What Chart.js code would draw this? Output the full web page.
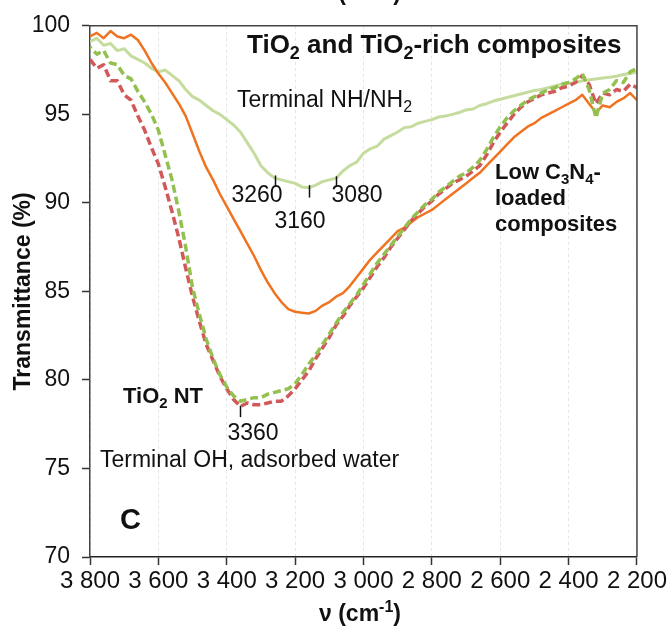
<!DOCTYPE html>
<html>
<head>
<meta charset="utf-8">
<script src="https://cdn.jsdelivr.net/npm/chart.js@4.4.1/dist/chart.umd.min.js"></script>
<style>
  html, body { margin: 0; padding: 0; background: #fff; }
  #wrap { width: 669px; height: 631px; }
</style>
</head>
<body>
<div id="wrap"><canvas id="irChart" width="669" height="631"></canvas></div>
<script>
// wavenumber (cm-1), read every 20 cm-1 off the picture
const wavenumbers = [3800, 3780, 3760, 3740, 3720, 3700, 3680, 3660, 3640, 3620,
  3600, 3580, 3560, 3540, 3520, 3500, 3480, 3460, 3440, 3420,
  3400, 3380, 3360, 3340, 3320, 3300, 3280, 3260, 3240, 3220,
  3200, 3180, 3160, 3140, 3120, 3100, 3080, 3060, 3040, 3020,
  3000, 2980, 2960, 2940, 2920, 2900, 2880, 2860, 2840, 2820,
  2800, 2780, 2760, 2740, 2720, 2700, 2680, 2660, 2640, 2620,
  2600, 2580, 2560, 2540, 2520, 2500, 2480, 2460, 2440, 2420,
  2400, 2380, 2360, 2340, 2320, 2300, 2280, 2260, 2240, 2220, 2200];

// light green solid (terminal NH/NH2 band)
const nhComposite = [99.1, 99.3, 98.9, 99.0, 98.6, 98.7, 98.3, 98.1, 97.9, 97.6,
  97.4, 97.5, 97.2, 96.9, 96.4, 96.0, 95.8, 95.5, 95.2, 95.0,
  94.7, 94.4, 94.0, 93.4, 92.8, 92.1, 91.7, 91.4, 91.3, 91.2,
  91.1, 90.9, 90.85, 91.0, 91.2, 91.3, 91.4, 91.8, 92.1, 92.3,
  92.8, 93.05, 93.2, 93.6, 93.8, 94.0, 94.25, 94.3, 94.5, 94.6,
  94.7, 94.85, 94.9, 95.0, 95.1, 95.25, 95.3, 95.5, 95.6, 95.75,
  95.85, 95.95, 96.05, 96.15, 96.25, 96.35, 96.4, 96.5, 96.6, 96.7,
  96.75, 96.8, 96.9, 96.95, 97.0, 97.05, 97.1, 97.15, 97.25, 97.3, 97.4];

// orange solid (low C3N4-loaded composites)
const lowC3N4 = [99.4, 99.6, 99.3, 99.7, 99.4, 99.3, 99.5, 99.2, 98.6, 97.9,
  97.3, 96.8, 96.2, 95.6, 94.9, 93.9, 92.9, 92.0, 91.3, 90.5,
  89.8, 89.1, 88.4, 87.7, 87.0, 86.2, 85.5, 84.9, 84.4, 84.0,
  83.85, 83.8, 83.75, 83.9, 84.2, 84.4, 84.7, 84.9, 85.3, 85.8,
  86.3, 86.8, 87.2, 87.6, 88.0, 88.4, 88.6, 88.9, 89.2, 89.4,
  89.6, 89.9, 90.2, 90.5, 90.8, 91.1, 91.4, 91.7, 92.1, 92.5,
  92.9, 93.3, 93.7, 94.0, 94.3, 94.5, 94.8, 95.0, 95.2, 95.4,
  95.6, 95.8, 96.1, 95.6, 95.1, 95.5, 95.4, 95.7, 95.9, 96.2, 95.8];

// red dashed (TiO2 NT)
const tio2NT = [98.1, 97.6, 97.8, 96.9, 96.9, 96.1, 95.8, 94.9, 94.1, 93.1,
  92.2, 90.9, 89.5, 88.0, 86.3, 84.7, 83.3, 82.0, 81.1, 80.2,
  79.5, 78.9, 78.5, 78.7, 78.6, 78.6, 78.7, 78.8, 78.8, 79.1,
  79.5, 80.0, 80.5, 81.2, 81.8, 82.4, 83.1, 83.6, 84.2, 84.7,
  85.2, 85.8, 86.4, 86.9, 87.5, 88.0, 88.5, 89.0, 89.4, 89.8,
  90.1, 90.5, 90.8, 91.1, 91.3, 91.5, 91.8, 92.1, 92.7, 93.4,
  94.0, 94.5, 95.0, 95.4, 95.7, 95.9, 96.1, 96.2, 96.3, 96.5,
  96.6, 96.8, 97.2, 96.7, 95.6, 96.2, 96.1, 96.4, 96.3, 96.7, 96.5];

// green dashed (TiO2-rich composite)
const tio2Rich = [98.8, 98.4, 98.6, 97.9, 97.8, 97.2, 97.0, 96.3, 95.7, 95.0,
  94.1, 92.7, 91.3, 89.5, 87.5, 85.2, 83.7, 82.3, 81.2, 80.3,
  79.6, 79.1, 78.8, 78.9, 79.0, 79.0, 79.2, 79.3, 79.4, 79.5,
  79.8, 80.3, 80.9, 81.4, 82.0, 82.6, 83.2, 83.8, 84.3, 84.8,
  85.4, 86.0, 86.6, 87.1, 87.6, 88.1, 88.6, 89.1, 89.5, 89.9,
  90.2, 90.6, 90.9, 91.2, 91.5, 91.7, 92.0, 92.4, 93.0, 93.7,
  94.3, 94.8, 95.2, 95.5, 95.8, 96.0, 96.2, 96.4, 96.5, 96.7,
  96.8, 97.0, 97.3, 96.4, 94.8, 96.2, 96.4, 96.9, 96.8, 97.4, 97.6];

const xTicks = [3800, 3600, 3400, 3200, 3000, 2800, 2600, 2400, 2200];
const yTicks = [70, 75, 80, 85, 90, 95, 100];
const peakLabels = [3260, 3160, 3080, 3360];

const FONT = '"Liberation Sans", Arial, sans-serif';

function pts(arr) {
  return wavenumbers.map((w, i) => ({ x: w, y: arr[i] }));
}

function fmtThousands(v) {
  return String(v).replace(/\B(?=(\d{3})+(?!\d))/g, ' ');
}

// text with sub/superscripts: parts = [[text, ''|'sub'|'sup'], ...]
function richText(ctx, parts, x, y, size, weight, align) {
  const small = Math.round(size * 0.68);
  const fontFor = m => `${weight} ${m ? small : size}px ${FONT}`;
  let w = 0;
  parts.forEach(([t, m]) => { ctx.font = fontFor(m); w += ctx.measureText(t).width; });
  let cx = align === 'center' ? x - w / 2 : align === 'right' ? x - w : x;
  ctx.textAlign = 'left';
  ctx.textBaseline = 'alphabetic';
  parts.forEach(([t, m]) => {
    ctx.font = fontFor(m);
    const dy = m === 'sub' ? size * 0.22 : m === 'sup' ? -size * 0.38 : 0;
    ctx.fillText(t, cx, y + dy);
    cx += ctx.measureText(t).width;
  });
}

const annotate = {
  id: 'annotate',
  afterDraw(chart) {
    const { ctx, chartArea: a, scales: { x, y } } = chart;
    ctx.save();
    ctx.fillStyle = '#111';

    // top and right frame
    ctx.strokeStyle = '#444';
    ctx.lineWidth = 1.5;
    ctx.beginPath();
    ctx.moveTo(a.left, a.top);
    ctx.lineTo(a.right, a.top);
    ctx.lineTo(a.right, a.bottom);
    ctx.stroke();

    // peak marks
    ctx.strokeStyle = '#111';
    ctx.lineWidth = 1.5;
    const marks = [[peakLabels[0], 91.55, 90.95], [peakLabels[1], 91.0, 90.3],
                   [peakLabels[2], 91.5, 90.95], [peakLabels[3], 78.55, 77.9]];
    marks.forEach(([w, y1, y2]) => {
      const px = Math.round(x.getPixelForValue(w)) + 0.5;
      ctx.beginPath();
      ctx.moveTo(px, y.getPixelForValue(y1));
      ctx.lineTo(px, y.getPixelForValue(y2));
      ctx.stroke();
    });
    ctx.font = `23px ${FONT}`;
    ctx.textAlign = 'center';
    ctx.textBaseline = 'alphabetic';
    ctx.fillText(String(peakLabels[0]), 257, 202);
    ctx.fillText(String(peakLabels[1]), 300, 228);
    ctx.fillText(String(peakLabels[2]), 357, 202);
    ctx.fillText(String(peakLabels[3]), 253, 440);

    // labels inside the plot
    richText(ctx, [['TiO', ''], ['2', 'sub'], [' and TiO', ''], ['2', 'sub'], ['-rich composites', '']], 247, 53, 26, 'bold', 'left');
    richText(ctx, [['Terminal NH/NH', ''], ['2', 'sub']], 237, 107, 23, 'normal', 'left');
    richText(ctx, [['Low C', ''], ['3', 'sub'], ['N', ''], ['4', 'sub'], ['-', '']], 495, 179, 22, 'bold', 'left');
    richText(ctx, [['loaded', '']], 495, 205, 22, 'bold', 'left');
    richText(ctx, [['composites', '']], 495, 231, 22, 'bold', 'left');
    richText(ctx, [['TiO', ''], ['2', 'sub'], [' NT', '']], 123, 403, 22, 'bold', 'left');
    richText(ctx, [['Terminal OH, adsorbed water', '']], 100, 467, 23, 'normal', 'left');
    richText(ctx, [['C', '']], 120, 529, 29, 'bold', 'left');

    // axis titles
    richText(ctx, [['\u03bd (cm', ''], ['-1', 'sup'], [')', '']], 360, 621, 23, 'bold', 'center');
    // clipped title of the panel above
    richText(ctx, [['\u03bd (cm', ''], ['-1', 'sup'], [')', '']], 360, 0, 23, 'bold', 'center');
    ctx.save();
    ctx.translate(30, (a.top + a.bottom) / 2);
    ctx.rotate(-Math.PI / 2);
    richText(ctx, [['Transmittance (%)', '']], 0, 0, 23, 'bold', 'center');
    ctx.restore();

    ctx.restore();
  }
};

new Chart(document.getElementById('irChart'), {
  type: 'line',
  data: {
    datasets: [
      { label: 'TiO2-rich composite', data: pts(tio2Rich), borderColor: '#93c04f',
        borderWidth: 3.5, borderDash: [8, 4], borderDashOffset: 6, order: 1 },
      { label: 'TiO2 NT', data: pts(tio2NT), borderColor: '#d2585a',
        borderWidth: 3.5, borderDash: [8, 4], order: 2 },
      { label: 'Low C3N4-loaded composites', data: pts(lowC3N4), borderColor: '#ef7320',
        borderWidth: 2.5, order: 3 },
      { label: 'Terminal NH/NH2', data: pts(nhComposite), borderColor: '#c6dc9f',
        borderWidth: 3, order: 4 }
    ]
  },
  options: {
    responsive: false,
    animation: false,
    layout: { padding: { top: 17, right: 32, left: 0, bottom: 0 } },
    elements: { point: { radius: 0 }, line: { tension: 0, borderJoinStyle: 'round' } },
    plugins: { legend: { display: false }, tooltip: { enabled: false } },
    scales: {
      x: {
        type: 'linear', reverse: true, min: 2200, max: 3800,
        afterBuildTicks: s => { s.ticks = xTicks.map(v => ({ value: v })); },
        afterFit: s => { s.height = 74; },
        ticks: { color: '#111', font: { size: 24, family: FONT }, padding: 2,
                 maxRotation: 0, autoSkip: false, callback: v => fmtThousands(v) },
        grid: { color: '#e4e4e4', lineWidth: 1, tickColor: '#333', tickLength: 8, tickWidth: 1.5 },
        border: { color: '#222', width: 1.5, dash: [3, 3] }
      },
      y: {
        min: 70, max: 100,
        afterBuildTicks: s => { s.ticks = yTicks.map(v => ({ value: v })); },
        afterFit: s => { s.width = 90; },
        ticks: { color: '#111', font: { size: 23, family: FONT }, padding: 12 },
        grid: { drawOnChartArea: false, tickColor: '#333', tickLength: 8, tickWidth: 1.5 },
        border: { color: '#444', width: 1.5 }
      }
    }
  },
  plugins: [annotate]
});
</script>
</body>
</html>
